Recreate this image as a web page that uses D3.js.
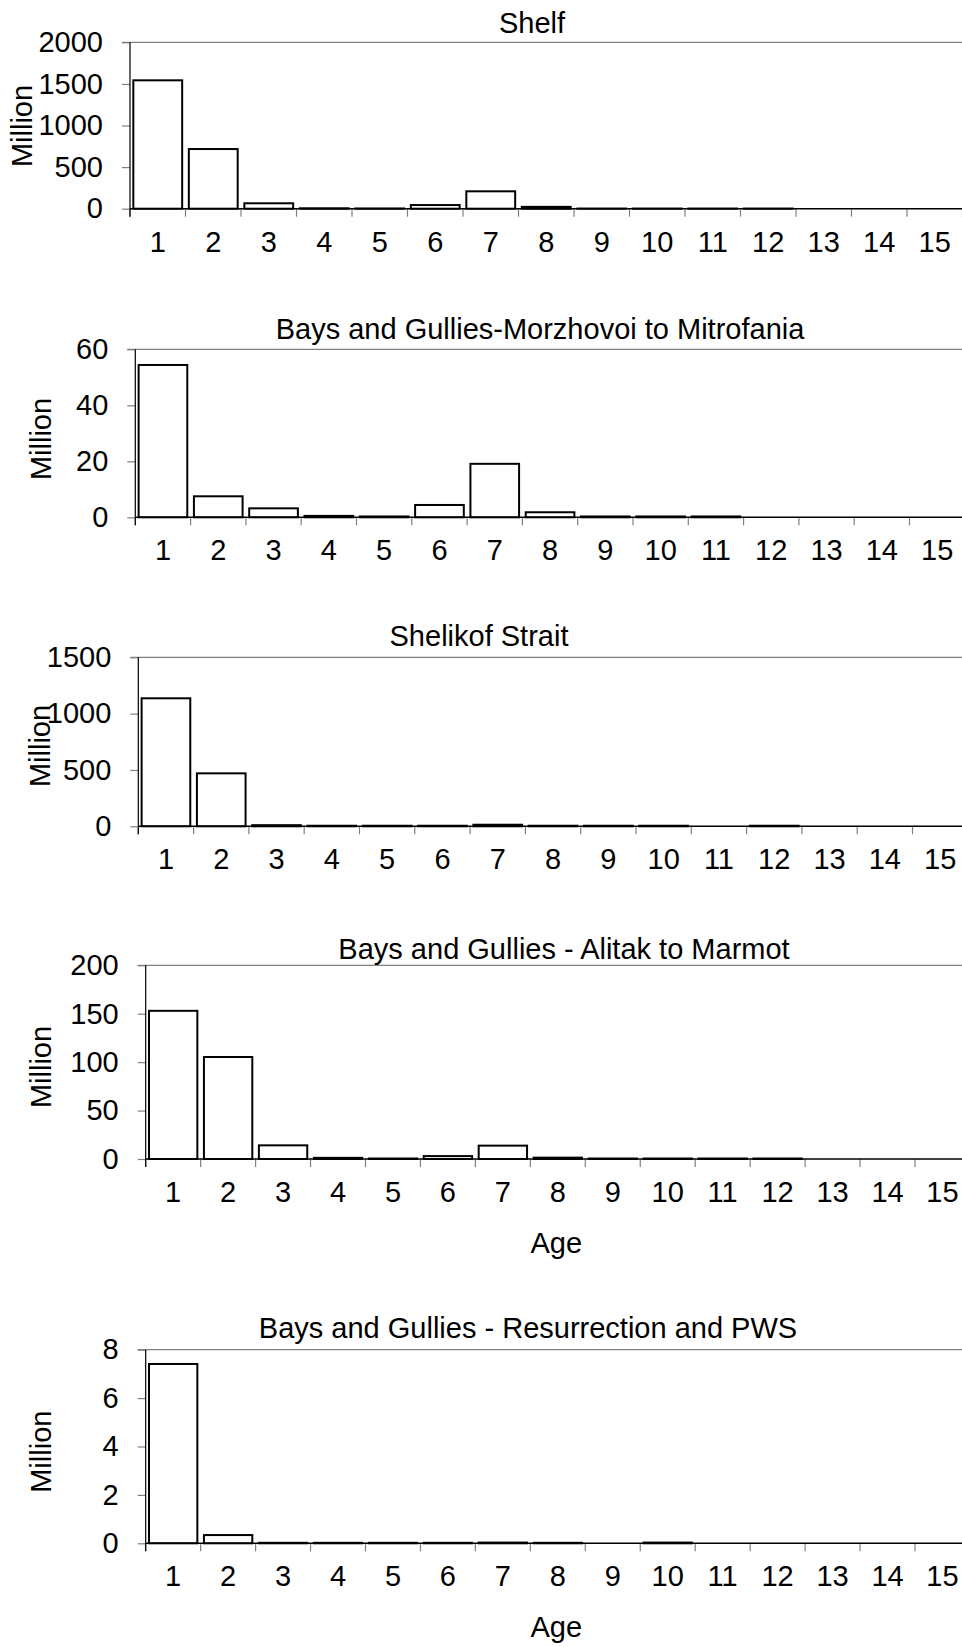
<!DOCTYPE html>
<html>
<head>
<meta charset="utf-8">
<script src="https://cdn.jsdelivr.net/npm/d3@7"></script>
<style>
  html, body { margin: 0; padding: 0; background: #fff; }
  svg { display: block; }
  text { font-family: "Liberation Sans", Arial, Helvetica, sans-serif; fill: #000; }
</style>
</head>
<body>
<svg id="chart" width="962" height="1647"></svg>
<script>
// ---- data ----
const ages = ["1","2","3","4","5","6","7","8","9","10","11","12","13","14","15"];

const shelfValues        = [1543, 717, 65, 5, 3, 44, 209, 22, 2, 2, 2, 2, 0, 0, 0];
const morzhovoiValues    = [54.4, 7.5, 3.2, 0.5, 0.3, 4.4, 19.1, 1.8, 0.3, 0.3, 0.3, 0, 0, 0, 0];
const shelikofValues     = [1136, 470, 10, 5, 5, 5, 14, 5, 5, 5, 0, 5, 0, 0, 0];
const alitakValues       = [153, 105.3, 14.1, 1.2, 0.5, 3, 13.8, 1.4, 0.5, 0.5, 0.5, 0.5, 0, 0, 0];
const resurrectionValues = [7.41, 0.34, 0.02, 0.02, 0.02, 0.02, 0.03, 0.02, 0, 0.03, 0, 0, 0, 0, 0];

const shelfTicks        = [0, 500, 1000, 1500, 2000];
const morzhovoiTicks    = [0, 20, 40, 60];
const shelikofTicks     = [0, 500, 1000, 1500];
const alitakTicks       = [0, 50, 100, 150, 200];
const resurrectionTicks = [0, 2, 4, 6, 8];

const panelTitles = [
  "Shelf",
  "Bays and Gullies-Morzhovoi to Mitrofania",
  "Shelikof Strait",
  "Bays and Gullies - Alitak to Marmot",
  "Bays and Gullies - Resurrection and PWS"
];
const yAxisLabel = "Million";
const xAxisLabel = "Age";

// ---- layout (positions only) ----
const layout = [
  { left: 130.0, top: 42.3,  bottom: 208.7,  step: 55.5,  titleX: 532, titleY: 32.5,  ylabX: 32.3, ylabY: 126,    age: false },
  { left: 135.3, top: 349.3, bottom: 517.3,  step: 55.3,  titleX: 540, titleY: 339.3, ylabX: 50.7, ylabY: 439,    age: false },
  { left: 138.3, top: 657.3, bottom: 826.3,  step: 55.3,  titleX: 479, titleY: 646,   ylabX: 50.0, ylabY: 746,    age: false },
  { left: 145.7, top: 965.3, bottom: 1159.0, step: 54.95, titleX: 564, titleY: 959,   ylabX: 50.7, ylabY: 1067,   age: true, ageY: 1253.3 },
  { left: 145.7, top: 1349.7,bottom: 1543.3, step: 54.95, titleX: 528, titleY: 1338.3,ylabX: 50.7, ylabY: 1451.7, age: true, ageY: 1637.3 }
];

const panelValues = [shelfValues, morzhovoiValues, shelikofValues, alitakValues, resurrectionValues];
const panelTicks  = [shelfTicks, morzhovoiTicks, shelikofTicks, alitakTicks, resurrectionTicks];

const FS = 29;
const svg = d3.select("#chart");

panelValues.forEach((vals, i) => {
  const L = layout[i];
  const ticks = panelTicks[i];
  const right = L.left + L.step * ages.length;

  const x = d3.scaleBand().domain(ages).range([L.left, right])
    .paddingInner(0.12).paddingOuter(0.06);
  const y = d3.scaleLinear().domain([0, d3.max(ticks)]).range([L.bottom, L.top]);

  const g = svg.append("g");

  // top gridline (max value)
  g.append("line")
    .attr("x1", L.left - 8).attr("x2", right)
    .attr("y1", y(d3.max(ticks))).attr("y2", y(d3.max(ticks)))
    .attr("stroke", "#808080").attr("stroke-width", 1.2);

  // y axis via d3.axisLeft
  const yAxis = d3.axisLeft(y).tickValues(ticks).tickSize(8).tickPadding(19)
    .tickFormat(d3.format("d"));
  const ya = g.append("g").attr("transform", `translate(${L.left},0)`).call(yAxis);
  ya.select(".domain").remove();
  ya.selectAll(".tick line").attr("stroke", "#808080").attr("stroke-width", 1.2);
  ya.selectAll(".tick text")
    .attr("font-size", FS)
    .attr("font-family", "'Liberation Sans', Arial, sans-serif")
    .attr("fill", "#000");

  // bars
  g.selectAll("rect.bar").data(vals.map((v, k) => ({ age: ages[k], v })))
    .enter().append("rect")
    .attr("class", "bar")
    .attr("x", d => x(d.age))
    .attr("width", x.bandwidth())
    .attr("y", d => y(d.v))
    .attr("height", d => y(0) - y(d.v))
    .attr("fill", "#fff")
    .attr("stroke", "#000")
    .attr("stroke-width", 2);

  // x axis tick marks at band boundaries
  const bounds = d3.range(ages.length + 1).map(k => L.left + k * L.step);
  g.selectAll("line.xt").data(bounds).enter().append("line")
    .attr("x1", d => d).attr("x2", d => d)
    .attr("y1", L.bottom).attr("y2", L.bottom + 8)
    .attr("stroke", "#808080").attr("stroke-width", 1.2);

  // bottom axis line
  g.append("line")
    .attr("x1", L.left).attr("x2", right)
    .attr("y1", L.bottom).attr("y2", L.bottom)
    .attr("stroke", "#000").attr("stroke-width", 1.5);
  // left axis line
  g.append("line")
    .attr("x1", L.left).attr("x2", L.left)
    .attr("y1", L.top).attr("y2", L.bottom + 8)
    .attr("stroke", "#000").attr("stroke-width", 1.2);

  // x tick labels
  g.selectAll("text.xl").data(ages).enter().append("text")
    .attr("x", d => x(d) + x.bandwidth() / 2)
    .attr("y", L.bottom + 43)
    .attr("text-anchor", "middle")
    .attr("font-size", FS)
    .text(d => d);

  // title
  g.append("text")
    .attr("x", L.titleX).attr("y", L.titleY)
    .attr("text-anchor", "middle")
    .attr("font-size", FS)
    .text(panelTitles[i]);

  // y axis label
  g.append("text")
    .attr("transform", `translate(${L.ylabX},${L.ylabY}) rotate(-90)`)
    .attr("text-anchor", "middle")
    .attr("font-size", FS)
    .text(yAxisLabel);

  if (L.age) {
    g.append("text")
      .attr("x", 556.3).attr("y", L.ageY)
      .attr("text-anchor", "middle")
      .attr("font-size", FS)
      .text(xAxisLabel);
  }
});
</script>
</body>
</html>
